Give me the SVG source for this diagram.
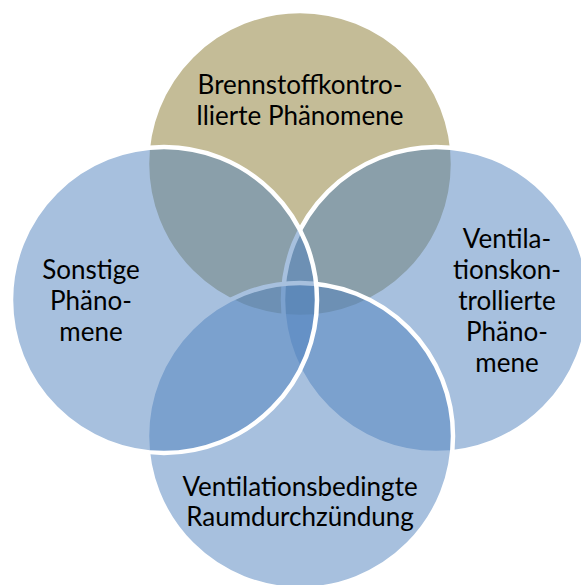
<svg xmlns="http://www.w3.org/2000/svg" width="581" height="585" viewBox="0 0 581 585">
<style>
.c{stroke:#fff;stroke-width:4.5}
.b{fill:#4F81BD;fill-opacity:.5}
.t{font-family:Lato,"Open Sans","Liberation Sans",sans-serif;font-size:26px;fill:#000;text-anchor:middle}
</style>
<rect width="581" height="585" fill="#fff"/>
<g id="top"><circle class="c" cx="300" cy="164" r="153" fill="#C4BC97"/></g>
<g id="right"><circle class="c b" cx="436" cy="300" r="153"/></g>
<g id="bottom"><circle class="c b" cx="300" cy="436" r="153"/></g>
<g id="left"><circle class="c b" cx="164" cy="300" r="153"/></g>
<g id="labels">
<text class="t" x="300" y="94">Brennstoffkontro-</text>
<text class="t" x="300" y="125">llierte Phänomene</text>
<text class="t" x="91" y="279">Sonstige</text>
<text class="t" x="91" y="310">Phäno-</text>
<text class="t" x="91" y="341">mene</text>
<text class="t" x="507" y="248">Ventila-</text>
<text class="t" x="507" y="279">tionskon-</text>
<text class="t" x="507" y="310">trollierte</text>
<text class="t" x="507" y="341">Phäno-</text>
<text class="t" x="507" y="372">mene</text>
<text class="t" x="300" y="496">Ventilationsbedingte</text>
<text class="t" x="300" y="526">Raumdurchzündung</text>
</g>
</svg>
